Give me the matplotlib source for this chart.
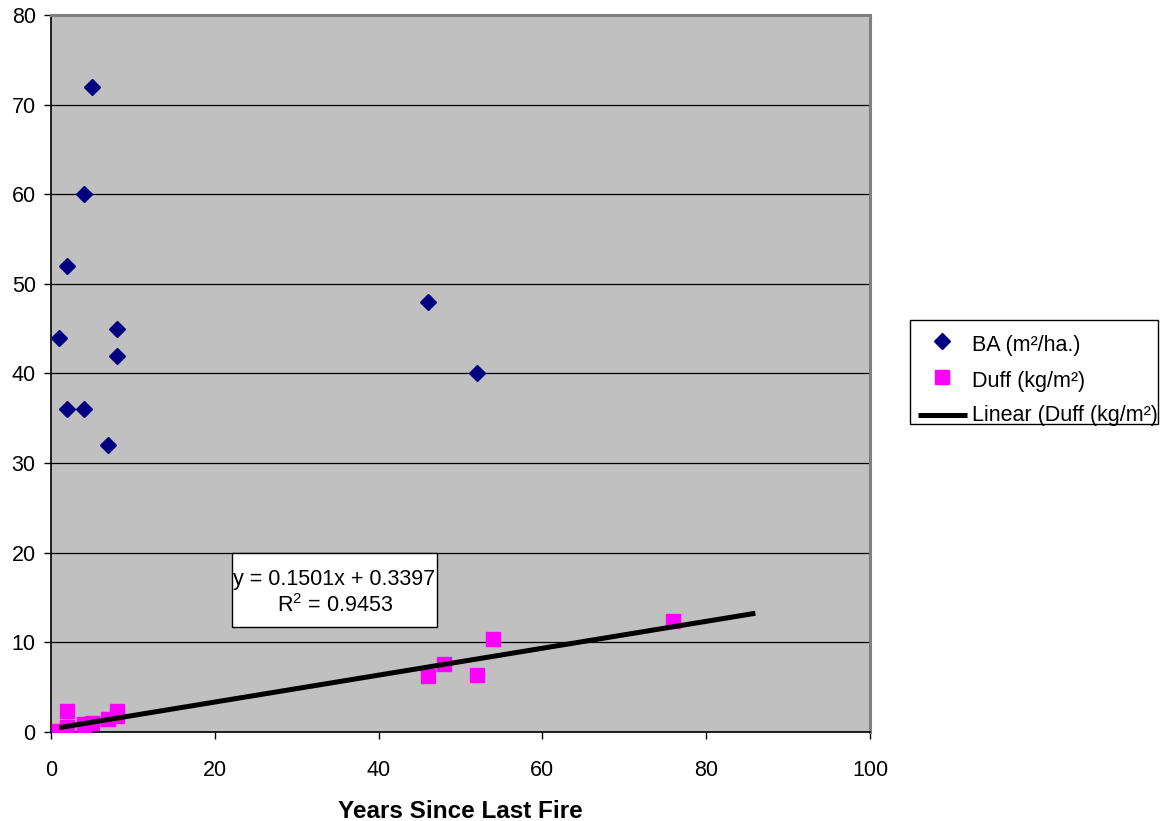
import matplotlib
matplotlib.use("Agg")
import matplotlib.pyplot as plt
import numpy as np
from matplotlib.lines import Line2D
from matplotlib.patches import Rectangle

plt.rcParams['font.family'] = ['Liberation Sans', 'DejaVu Sans']
plt.rcParams['mathtext.fontset'] = 'custom'
plt.rcParams['mathtext.rm'] = 'Liberation Sans'
plt.rcParams['mathtext.it'] = 'Liberation Sans'

# Data
years_ba = [1, 2, 2, 4, 4, 5, 7, 8, 8, 46, 52]
ba_values = [44, 52, 36, 60, 36, 72, 32, 45, 42, 48, 40]

years_duff = [1, 2, 2, 4, 4, 5, 7, 8, 8, 46, 48, 52, 54, 76]
duff_values = [0.1, 2.3, 0.6, 0.9, 0.3, 1.0, 1.4, 2.3, 1.8, 6.3, 7.6, 6.4, 10.4, 12.4]

trend_slope = 0.1501
trend_intercept = 0.3397
trend_r2 = 0.9453
trend_forward = 10

x_ticks = [0, 20, 40, 60, 80, 100]
y_ticks = [0, 10, 20, 30, 40, 50, 60, 70, 80]

label_ba = "BA (m²/ha.)"
label_duff = "Duff (kg/m²)"
label_trend = "Linear (Duff (kg/m²)"
x_label = "Years Since Last Fire"

BA_COLOR = '#000080'
DUFF_COLOR = '#FF00FF'
FS = 15.5

W, H = 1160, 821
fig = plt.figure(figsize=(W / 100, H / 100), dpi=100)
ax = fig.add_axes([51 / W, 1 - 732 / H, (870 - 51) / W, (732 - 15) / H])
ax.set_facecolor('#C0C0C0')

ax.set_xlim(0, 100)
ax.set_ylim(0, 80)
ax.set_xticks(x_ticks)
ax.set_yticks(y_ticks)
ax.yaxis.grid(True, color='black', linewidth=0.9)
ax.set_axisbelow(True)

for side in ['left', 'bottom']:
    ax.spines[side].set_color('black')
    ax.spines[side].set_linewidth(1.2)
for side in ['top', 'right']:
    ax.spines[side].set_color('#808080')
    ax.spines[side].set_linewidth(2.2)

ax.tick_params(axis='both', direction='out', length=5, width=1.0, color='black',
               labelsize=FS)
ax.tick_params(axis='y', pad=6)
ax.tick_params(axis='x', pad=15)

# Trendline
tx = np.array([min(years_duff), max(years_duff) + trend_forward])
ty = trend_slope * tx + trend_intercept

ax.plot(years_ba, ba_values, linestyle='none', marker='D', markersize=7.8,
        color=BA_COLOR, markeredgecolor=BA_COLOR, zorder=3)
ax.plot(years_duff, duff_values, linestyle='none', marker='s', markersize=10,
        color=DUFF_COLOR, markeredgecolor=DUFF_COLOR, zorder=3)
ax.plot(tx, ty, color='black', linewidth=3.6, solid_capstyle='butt', zorder=4)

# Equation label box (axes-pixel layout)
def ax_frac(px, py):
    return ((px - 51) / (870 - 51), (732 - py) / (732 - 15))

bx0, by0 = ax_frac(232, 627)
bx1, by1 = ax_frac(437, 553)
ax.add_patch(Rectangle((bx0, by0), bx1 - bx0, by1 - by0, transform=ax.transAxes,
                       facecolor='white', edgecolor='black', linewidth=1.0, zorder=5))
cx, cy1 = ax_frac(334.5, 579)
_, cy2 = ax_frac(334.5, 606)
ax.text(cx, cy1, f"y = {trend_slope}x + {trend_intercept}", transform=ax.transAxes,
        ha='center', va='center', fontsize=FS, zorder=6)
ax.text(cx, cy2, r"R$^{2}$" + f" = {trend_r2}", transform=ax.transAxes,
        ha='center', va='center', fontsize=FS, zorder=6)

ax.set_xlabel(x_label, fontsize=17.5, fontweight='bold', labelpad=14)

# Legend (manual, figure pixel layout)
def fig_frac(px, py):
    return (px / W, 1 - py / H)

lx0, ly0 = fig_frac(910, 424)
lx1, ly1 = fig_frac(1158, 320)
fig.patches.append(Rectangle((lx0, ly0), lx1 - lx0, ly1 - ly0, transform=fig.transFigure,
                             facecolor='white', edgecolor='black', linewidth=1.0,
                             zorder=1))
rows = [(label_ba, 341, 'D'), (label_duff, 377, 's'), (label_trend, 412, '-')]
for text, py, kind in rows:
    x_m, y_m = fig_frac(942, py)
    if kind == 'D':
        fig.add_artist(Line2D([x_m], [y_m], transform=fig.transFigure, linestyle='none',
                              marker='D', markersize=7.8, color=BA_COLOR, zorder=2))
    elif kind == 's':
        fig.add_artist(Line2D([x_m], [y_m], transform=fig.transFigure, linestyle='none',
                              marker='s', markersize=10, color=DUFF_COLOR, zorder=2))
    else:
        xa, _ = fig_frac(918, py)
        xb, _ = fig_frac(967, py)
        fig.add_artist(Line2D([xa, xb], [y_m - 0.004, y_m - 0.004], transform=fig.transFigure,
                              color='black', linewidth=3.6, solid_capstyle='butt', zorder=2))
    tx0, ty0 = fig_frac(972, py + 4)
    fig.text(tx0, ty0, text, ha='left', va='center', fontsize=FS, zorder=3)

fig.savefig('out.png', dpi=100)
